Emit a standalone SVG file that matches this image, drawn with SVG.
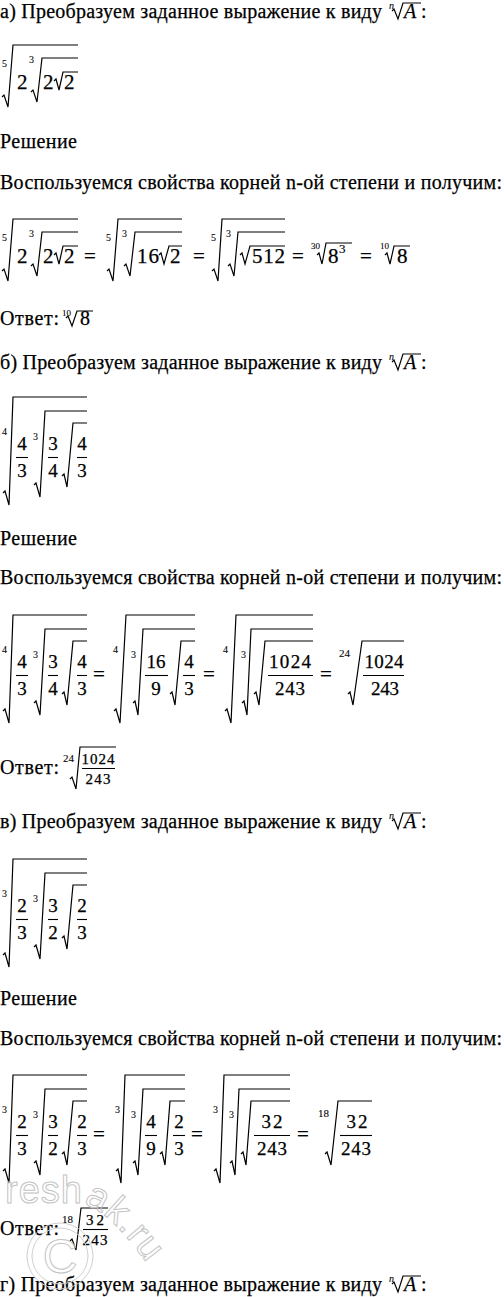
<svg xmlns="http://www.w3.org/2000/svg" width="504" height="1297" viewBox="0 0 504 1297">
<style>
text{font-family:"Liberation Serif",serif;fill:#000;stroke:#000;stroke-width:0.25}
.t{font-size:20px}
.d{font-size:21px}
.f{font-size:19px;text-anchor:middle}
.s{font-size:15px;text-anchor:middle}
.i{font-size:10px;stroke-width:0.1}
.it{font-style:italic}
.r{fill:none;stroke:#000;stroke-width:1.2;stroke-linejoin:miter}
.b{stroke:#000;stroke-width:1.1}
text.w{font-family:"Liberation Sans",sans-serif;fill:none;stroke:#c4c4c4;stroke-width:1}
</style>
<rect width="504" height="1297" fill="#fff"/>

<g id="part-a">
<text class="t" x="0" y="18" textLength="382">а) Преобразуем заданное выражение к виду</text>
<text class="i it" x="389" y="9">n</text>
<path class="r" d="M392,11 l2,-2 L398,19 L403,3 H421"/>
<text class="t it" x="404" y="18" textLength="15">A</text>
<text class="t" x="421" y="18">:</text>

<g id="a-expr">
<text class="i" x="2" y="67">5</text>
<path class="r" d="M2,97 l2,-2 L8,107 L13,45 H78"/>
<text class="d" x="17" y="89">2</text>
<text class="i" x="29" y="63">3</text>
<path class="r" d="M31,92 l2,-2 L37,102 L42,58 H78"/>
<text class="d" x="43" y="89">2</text>
<path class="r" d="M54,81 l2,-2 L59,90 L63,72 H78"/>
<text class="d" x="64" y="89">2</text>
</g>

<text class="t" x="0" y="148" textLength="77">Решение</text>
<text class="t" x="0" y="189" textLength="502">Воспользуемся свойства корней n-ой степени и получим:</text>

<g id="a-row">
<text class="i" x="2" y="241">5</text>
<path class="r" d="M2,271 l2,-2 L8,281 L13,219 H78"/>
<text class="d" x="17" y="263">2</text>
<text class="i" x="29" y="237">3</text>
<path class="r" d="M31,266 l2,-2 L37,276 L42,232 H78"/>
<text class="d" x="43" y="263">2</text>
<path class="r" d="M54,255 l2,-2 L59,264 L63,246 H78"/>
<text class="d" x="64" y="263">2</text>
<text class="d" x="84" y="263">=</text>
<text class="i" x="106" y="241">5</text>
<path class="r" d="M107,271 l2,-2 L113,281 L118,219 H182"/>
<text class="i" x="122" y="237">3</text>
<path class="r" d="M124,266 l2,-2 L130,276 L135,232 H182"/>
<text class="d" x="137" y="263" textLength="22">16</text>
<path class="r" d="M159,255 l2,-2 L164,264 L169,246 H182"/>
<text class="d" x="170" y="263">2</text>
<text class="d" x="193" y="263">=</text>
<text class="i" x="211" y="241">5</text>
<path class="r" d="M212,271 l2,-2 L218,281 L222,219 H285"/>
<text class="i" x="226" y="237">3</text>
<path class="r" d="M228,266 l2,-2 L234,276 L238,232 H285"/>
<path class="r" d="M240,255 l2,-2 L245,264 L250,246 H285"/>
<text class="d" x="252" y="263" textLength="33">512</text>
<text class="d" x="292" y="263">=</text>
<text class="i" x="311" y="249" style="font-size:9px">30</text>
<path class="r" d="M317,255 l2,-2 L322,264 L326,243 H352"/>
<text class="d" x="328" y="263">8</text>
<text x="339" y="253" style="font-size:13px;stroke-width:0.15">3</text>
<text class="d" x="360" y="263">=</text>
<text class="i" x="380" y="249" style="font-size:9px">10</text>
<path class="r" d="M385,255 l2,-2 L390,264 L394,246 H410"/>
<text class="d" x="397" y="263">8</text>
</g>

<g id="a-answer">
<text class="t" x="0" y="325" textLength="59">Ответ:</text>
<text class="i" x="62" y="316" style="font-size:9px">10</text>
<path class="r" d="M66,318 l2,-2 L72,326 L77,311 H93"/>
<text class="t" x="80" y="325">8</text>
</g>
</g>

<g id="part-b">
<text class="t" x="0" y="369" textLength="382">б) Преобразуем заданное выражение к виду</text>
<text class="i it" x="389" y="360">n</text>
<path class="r" d="M392,362 l2,-2 L398,370 L403,354 H421"/>
<text class="t it" x="404" y="369" textLength="15">A</text>
<text class="t" x="421" y="369">:</text>

<g id="b-expr">
<text class="i" x="2" y="435">4</text>
<path class="r" d="M3,493 l2,-2 L9,505 L13,397 H87"/>
<text class="f" x="22" y="450">4</text><line class="b" x1="16" y1="457.5" x2="28" y2="457.5"/><text class="f" x="22" y="477">3</text>
<text class="i" x="33" y="440">3</text>
<path class="r" d="M34,485 l2,-2 L40,497 L45,411 H87"/>
<text class="f" x="53" y="450">3</text><line class="b" x1="48" y1="457.5" x2="58" y2="457.5"/><text class="f" x="53" y="477">4</text>
<path class="r" d="M62,476 l2,-2 L67,487 L73,423 H87"/>
<text class="f" x="82" y="450">4</text><line class="b" x1="77" y1="457.5" x2="87" y2="457.5"/><text class="f" x="82" y="477">3</text>
</g>

<text class="t" x="0" y="545" textLength="77">Решение</text>
<text class="t" x="0" y="584" textLength="502">Воспользуемся свойства корней n-ой степени и получим:</text>

<g id="b-row">
<text class="i" x="2" y="653">4</text>
<path class="r" d="M3,711 l2,-2 L9,723 L13,615 H87"/>
<text class="f" x="22" y="668">4</text><line class="b" x1="16" y1="675.5" x2="28" y2="675.5"/><text class="f" x="22" y="695">3</text>
<text class="i" x="33" y="658">3</text>
<path class="r" d="M34,703 l2,-2 L40,715 L45,629 H87"/>
<text class="f" x="53" y="668">3</text><line class="b" x1="48" y1="675.5" x2="58" y2="675.5"/><text class="f" x="53" y="695">4</text>
<path class="r" d="M62,694 l2,-2 L67,705 L73,641 H87"/>
<text class="f" x="82" y="668">4</text><line class="b" x1="77" y1="675.5" x2="87" y2="675.5"/><text class="f" x="82" y="695">3</text>
<text class="d" x="93" y="681">=</text>
<text class="i" x="113" y="653">4</text>
<path class="r" d="M114,711 l2,-2 L120,723 L126,615 H195"/>
<text class="i" x="131" y="658">3</text>
<path class="r" d="M133,703 l2,-2 L138,715 L143,629 H195"/>
<text class="f" x="156" y="668">16</text><line class="b" x1="145" y1="675.5" x2="168" y2="675.5"/><text class="f" x="156" y="695">9</text>
<path class="r" d="M170,694 l2,-2 L175,705 L181,641 H195"/>
<text class="f" x="189" y="668">4</text><line class="b" x1="183" y1="675.5" x2="195" y2="675.5"/><text class="f" x="189" y="695">3</text>
<text class="d" x="203" y="681">=</text>
<text class="i" x="223" y="653">4</text>
<path class="r" d="M225,711 l2,-2 L231,723 L236,615 H313"/>
<text class="i" x="241" y="658">3</text>
<path class="r" d="M242,703 l2,-2 L247,715 L251,629 H313"/>
<path class="r" d="M254,694 l2,-2 L259,705 L265,641 H313"/>
<text class="f" x="290" y="668" textLength="42">1024</text><line class="b" x1="268" y1="675.5" x2="313" y2="675.5"/><text class="f" x="290" y="695" textLength="30">243</text>
<text class="d" x="320" y="681">=</text>
<text class="i" x="339" y="657" style="font-size:11px">24</text>
<path class="r" d="M348,694 l2,-2 L353,705 L362,641 H404"/>
<text class="f" x="384" y="668" textLength="39">1024</text><line class="b" x1="363" y1="675.5" x2="404" y2="675.5"/><text class="f" x="385" y="695" textLength="28">243</text>
</g>

<g id="b-answer">
<text class="t" x="0" y="774" textLength="59">Ответ:</text>
<text class="i" x="63" y="762" style="font-size:11px">24</text>
<path class="r" d="M70,779 l2,-2 L76,789 L80,747 H116"/>
<text class="s" x="98" y="764" textLength="33">1024</text><line class="b" x1="82" y1="768.5" x2="115" y2="768.5"/><text class="s" x="98" y="784" textLength="25">243</text>
</g>
</g>

<g id="part-c">
<text class="t" x="0" y="828" textLength="382">в) Преобразуем заданное выражение к виду</text>
<text class="i it" x="389" y="819">n</text>
<path class="r" d="M392,821 l2,-2 L398,829 L403,813 H421"/>
<text class="t it" x="404" y="828" textLength="15">A</text>
<text class="t" x="421" y="828">:</text>

<g id="c-expr">
<text class="i" x="2" y="897">3</text>
<path class="r" d="M3,955 l2,-2 L9,967 L13,859 H87"/>
<text class="f" x="22" y="912">2</text><line class="b" x1="16" y1="919.5" x2="28" y2="919.5"/><text class="f" x="22" y="939">3</text>
<text class="i" x="33" y="902">3</text>
<path class="r" d="M34,947 l2,-2 L40,959 L45,873 H87"/>
<text class="f" x="53" y="912">3</text><line class="b" x1="48" y1="919.5" x2="58" y2="919.5"/><text class="f" x="53" y="939">2</text>
<path class="r" d="M62,938 l2,-2 L67,949 L73,885 H87"/>
<text class="f" x="82" y="912">2</text><line class="b" x1="77" y1="919.5" x2="87" y2="919.5"/><text class="f" x="82" y="939">3</text>
</g>

<text class="t" x="0" y="1005" textLength="77">Решение</text>
<text class="t" x="0" y="1045" textLength="502">Воспользуемся свойства корней n-ой степени и получим:</text>

<g id="c-row">
<text class="i" x="2" y="1113">3</text>
<path class="r" d="M3,1171 l2,-2 L9,1183 L13,1075 H87"/>
<text class="f" x="22" y="1128">2</text><line class="b" x1="16" y1="1135.5" x2="28" y2="1135.5"/><text class="f" x="22" y="1155">3</text>
<text class="i" x="33" y="1118">3</text>
<path class="r" d="M34,1163 l2,-2 L40,1175 L45,1089 H87"/>
<text class="f" x="53" y="1128">3</text><line class="b" x1="48" y1="1135.5" x2="58" y2="1135.5"/><text class="f" x="53" y="1155">2</text>
<path class="r" d="M62,1154 l2,-2 L67,1165 L73,1101 H87"/>
<text class="f" x="82" y="1128">2</text><line class="b" x1="77" y1="1135.5" x2="87" y2="1135.5"/><text class="f" x="82" y="1155">3</text>
<text class="d" x="93" y="1141">=</text>
<text class="i" x="115" y="1113">3</text>
<path class="r" d="M116,1171 l2,-2 L121,1183 L125,1075 H185"/>
<text class="i" x="131" y="1118">3</text>
<path class="r" d="M133,1163 l2,-2 L138,1175 L143,1089 H185"/>
<text class="f" x="151" y="1128">4</text><line class="b" x1="145" y1="1135.5" x2="157" y2="1135.5"/><text class="f" x="151" y="1155">9</text>
<path class="r" d="M160,1154 l2,-2 L165,1165 L170,1101 H185"/>
<text class="f" x="179" y="1128">2</text><line class="b" x1="173" y1="1135.5" x2="185" y2="1135.5"/><text class="f" x="179" y="1155">3</text>
<text class="d" x="191" y="1141">=</text>
<text class="i" x="213" y="1113">3</text>
<path class="r" d="M214,1171 l2,-2 L220,1183 L224,1075 H290"/>
<text class="i" x="229" y="1118">3</text>
<path class="r" d="M230,1163 l2,-2 L235,1175 L239,1089 H290"/>
<path class="r" d="M241,1154 l2,-2 L246,1165 L251,1101 H290"/>
<text class="f" x="272" y="1128" textLength="21">32</text><line class="b" x1="254" y1="1135.5" x2="290" y2="1135.5"/><text class="f" x="272" y="1155" textLength="30">243</text>
<text class="d" x="297" y="1141">=</text>
<text class="i" x="318" y="1117" style="font-size:11px">18</text>
<path class="r" d="M325,1154 l2,-2 L331,1165 L338,1101 H372"/>
<text class="f" x="357" y="1128" textLength="21">32</text><line class="b" x1="340" y1="1135.5" x2="372" y2="1135.5"/><text class="f" x="356" y="1155" textLength="30">243</text>
</g>

<g id="c-answer">
<text class="t" x="0" y="1235" textLength="59">Ответ:</text>
<text class="i" x="62" y="1223" style="font-size:11px">18</text>
<path class="r" d="M70,1241 l2,-2 L76,1250 L81,1208 H108"/>
<text class="s" x="95" y="1225" textLength="18">32</text><line class="b" x1="83" y1="1229.5" x2="108" y2="1229.5"/><text class="s" x="95" y="1245" textLength="25">243</text>
</g>
</g>

<g id="part-d">
<text class="t" x="0" y="1291" textLength="382">г) Преобразуем заданное выражение к виду</text>
<text class="i it" x="389" y="1282">n</text>
<path class="r" d="M392,1284 l2,-2 L398,1292 L403,1276 H421"/>
<text class="t it" x="404" y="1291" textLength="15">A</text>
<text class="t" x="421" y="1291">:</text>
</g>

<g id="watermark">
<defs><path id="wm" d="M5,1203 L78,1203 Q112,1206 170,1297"/></defs>
<text class="w" style="font-size:38px" letter-spacing="1"><textPath href="#wm">reshak.ru</textPath></text>
<circle cx="60" cy="1256" r="33" fill="none" stroke="#cfcfcf" stroke-width="1"/>
<circle cx="60" cy="1256" r="28" fill="none" stroke="#cfcfcf" stroke-width="1"/>
<text class="w" x="60" y="1273" text-anchor="middle" style="font-size:48px">C</text>
</g>
</svg>
